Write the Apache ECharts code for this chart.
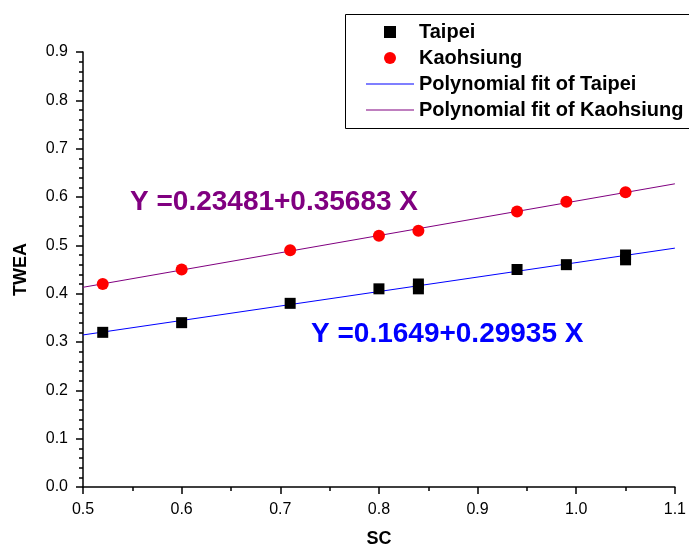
<!DOCTYPE html>
<html>
<head>
<meta charset="utf-8">
<script src="https://cdn.jsdelivr.net/npm/echarts@6/dist/echarts.min.js"></script>
<style>html,body{margin:0;padding:0;background:#fff}#c{width:689px;height:553px}</style>
</head>
<body>
<div id="c"></div>
<script>
var taipeiX = [0.52, 0.60, 0.71, 0.80, 0.84, 0.84, 0.94, 0.99, 1.05, 1.05];
var taipeiY = [0.32, 0.34, 0.38, 0.41, 0.42, 0.41, 0.45, 0.46, 0.48, 0.47];
var kaoX = [0.52, 0.60, 0.71, 0.80, 0.84, 0.94, 0.99, 1.05];
var kaoY = [0.42, 0.45, 0.49, 0.52, 0.53, 0.57, 0.59, 0.61];
var fitX = [0.5, 1.1];
var taipeiFitY = [0.3146, 0.4942];
var kaoFitY = [0.4132, 0.6273];
var taipeiEq = 'Y =0.1649+0.29935 X';
var kaoEq = 'Y =0.23481+0.35683 X';

function pairs(xs, ys) { return xs.map(function (x, i) { return [x, ys[i]]; }); }

var FONT = '"Liberation Sans", Arial, sans-serif';
var chart = echarts.init(document.getElementById('c'), null, { renderer: 'canvas' });
var axisCommon = {
  axisLine: { show: true, onZero: false, lineStyle: { color: '#000', width: 1.5 } },
  axisTick: { show: true, inside: false, length: 7, lineStyle: { color: '#000', width: 1.5 } },
  minorTick: { show: true, splitNumber: 5, length: 4, lineStyle: { color: '#000', width: 1.5 } },
  splitLine: { show: false },
  axisLabel: { color: '#000', fontSize: 16, fontFamily: FONT, margin: 15, formatter: function (v) { return v.toFixed(1); } },
  nameTextStyle: { color: '#000', fontSize: 18, fontWeight: 'bold', fontFamily: FONT }
};
chart.setOption({
  animation: false,
  backgroundColor: '#fff',
  grid: { left: 83, right: 10, top: 52, bottom: 64, containLabel: false },
  xAxis: Object.assign({}, axisCommon, {
    type: 'value', min: 0.5, max: 1.1, interval: 0.1,
    name: 'SC', nameLocation: 'middle', nameGap: 43,
    axisLabel: Object.assign({}, axisCommon.axisLabel, { margin: 15 }),
    minorTick: Object.assign({}, axisCommon.minorTick, { splitNumber: 2 })
  }),
  yAxis: Object.assign({}, axisCommon, {
    type: 'value', min: 0, max: 0.9, interval: 0.1,
    name: 'TWEA', nameLocation: 'middle', nameGap: 53, nameRotate: 90
  }),
  legend: {
    orient: 'vertical', left: 366, top: 22, padding: 0,
    itemWidth: 48, itemHeight: 12, itemGap: 6,
    selectedMode: false,
    textStyle: { color: '#000', fontSize: 20, fontWeight: 'bold', fontFamily: FONT, lineHeight: 20 },
    data: [
      { name: 'Taipei', icon: 'path://M0,0H10V10H0Z' },
      { name: 'Kaohsiung', icon: 'circle' },
      { name: 'Polynomial fit of Taipei', icon: 'path://M0,0H48V1H0Z' },
      { name: 'Polynomial fit of Kaohsiung', icon: 'path://M0,0H48V1H0Z' }
    ]
  },
  graphic: [
    { type: 'rect', left: 343, top: 12, shape: { width: 360, height: 114 }, style: { fill: 'none', stroke: '#000', lineWidth: 1 }, z: 1 },
    { type: 'text', left: 130, top: 188, style: { text: kaoEq, fill: '#800080', font: 'bold 28px ' + FONT }, z: 10 },
    { type: 'text', left: 311, top: 320, style: { text: taipeiEq, fill: '#0000ff', font: 'bold 28px ' + FONT }, z: 10 }
  ],
  series: [
    { name: 'Polynomial fit of Taipei', type: 'line', data: pairs(fitX, taipeiFitY), symbol: 'none', lineStyle: { color: '#0000ff', width: 1 }, itemStyle: { color: '#0000ff' }, z: 2 },
    { name: 'Polynomial fit of Kaohsiung', type: 'line', data: pairs(fitX, kaoFitY), symbol: 'none', lineStyle: { color: '#800080', width: 1 }, itemStyle: { color: '#800080' }, z: 2 },
    { name: 'Taipei', type: 'scatter', data: pairs(taipeiX, taipeiY), symbol: 'rect', symbolSize: 11, itemStyle: { color: '#000', opacity: 1 }, z: 3 },
    { name: 'Kaohsiung', type: 'scatter', data: pairs(kaoX, kaoY), symbol: 'circle', symbolSize: 12, itemStyle: { color: '#ff0000', opacity: 1 }, z: 3 }
  ]
});
</script>
</body>
</html>
